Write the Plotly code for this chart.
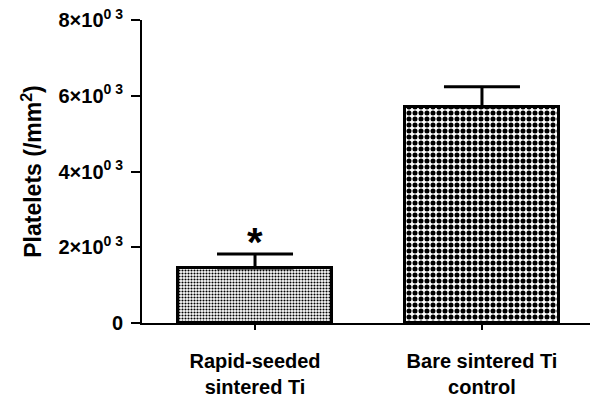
import plotly.graph_objects as go

categories = ["Rapid-seeded<br>sintered Ti", "Bare sintered Ti<br>control"]
means = [1450, 5700]
errors = [370, 540]
ytick_vals = [0, 2000, 4000, 6000, 8000]
ytick_text = ["0", "2×10<sup>0 3</sup>", "4×10<sup>0 3</sup>", "6×10<sup>0 3</sup>", "8×10<sup>0 3</sup>"]
patterns = [".", "."]
pattern_sizes = [3, 6]
pattern_solidity = [0.4, 0.55]

fig = go.Figure()
for i in range(len(categories)):
    fig.add_trace(go.Bar(
        x=[i], y=[means[i]], width=0.68,
        marker=dict(color="white", line=dict(color="black", width=3),
                    pattern=dict(shape=patterns[i], size=pattern_sizes[i],
                                 solidity=pattern_solidity[i], fgcolor="black",
                                 bgcolor="white", fillmode="replace")),
        error_y=dict(type="data", array=[errors[i]], arrayminus=[0], symmetric=False,
                     color="black", thickness=3, width=38),
        showlegend=False,
    ))

fig.add_annotation(x=0, y=means[0] + errors[0], text="<b>*</b>", showarrow=False,
                   yanchor="bottom", yshift=-12, font=dict(size=40, color="black",
                   family="Liberation Sans"))

fig.update_layout(
    width=610, height=400,
    margin=dict(l=142, r=20, t=20, b=77, autoexpand=False),
    plot_bgcolor="white", paper_bgcolor="white",
    font=dict(family="Liberation Sans", color="black"),
    xaxis=dict(range=[-0.498, 1.476], tickvals=[0, 1], ticktext=categories,
               showline=True, linecolor="black", linewidth=2, ticks="outside",
               ticklen=5, tickwidth=2, tickcolor="black", showgrid=False, zeroline=False,
               ticklabelstandoff=14, automargin=False,
               tickfont=dict(size=20, weight="bold", color="black")),
    yaxis=dict(range=[0, 8000], tickvals=ytick_vals, ticktext=ytick_text,
               showline=True, linecolor="black", linewidth=2, ticks="outside",
               ticklen=9, tickwidth=2, tickcolor="black", showgrid=False, zeroline=False,
               ticklabelstandoff=4, ticklabeloverflow="allow", automargin=False,
               tickfont=dict(size=20, weight="bold", color="black"),
               title=dict(text="Platelets (/mm<sup>2</sup>)", standoff=10,
                          font=dict(size=23, weight="bold", color="black"))),
    bargap=0,
)

fig.write_html("out.html", config={"displayModeBar": False},
               post_script="document.body.style.margin='0';document.body.style.overflow='hidden';")
